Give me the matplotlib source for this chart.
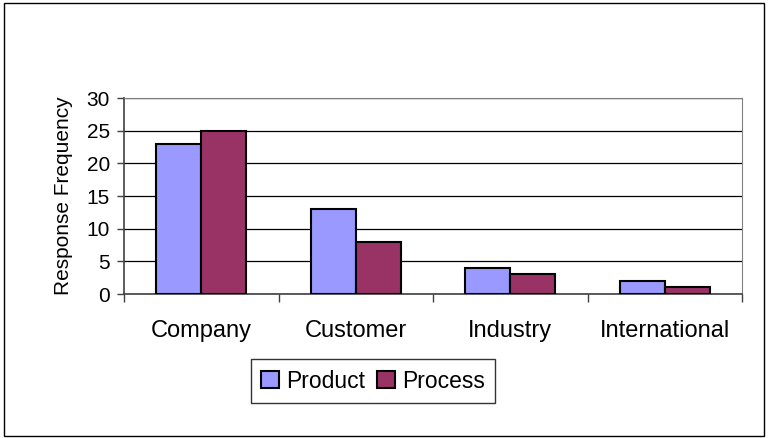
import numpy as np
import matplotlib.pyplot as plt
from matplotlib.patches import Rectangle

plt.rcParams['font.family'] = ['Liberation Sans', 'DejaVu Sans']

categories = ['Company', 'Customer', 'Industry', 'International']
product = [23, 13, 4, 2]
process = [25, 8, 3, 1]
y_ticks = [0, 5, 10, 15, 20, 25, 30]

W, H = 768, 438
fig = plt.figure(figsize=(W / 100, H / 100), dpi=100)

# outer chart border
fig.patches.append(Rectangle((4 / W, 2 / H), 760 / W, 433 / H, transform=fig.transFigure,
                             fill=False, edgecolor='black', linewidth=1.0))

ax = fig.add_axes([124 / W, 1 - 294 / H, 618 / W, 196 / H])

x = np.arange(len(categories))
bw = 0.29
ax.bar(x - bw / 2, product, bw, color='#9999FF', edgecolor='black', linewidth=1.5,
       label='Product', zorder=3)
ax.bar(x + bw / 2, process, bw, color='#993366', edgecolor='black', linewidth=1.5,
       label='Process', zorder=3)

ax.set_xlim(-0.5, len(categories) - 0.5)
ax.set_ylim(0, 30)
ax.set_yticks(y_ticks)
ax.tick_params(axis='y', labelsize=15, length=5, width=1, color='#404040', pad=5)
ax.yaxis.grid(True, color='black', linewidth=0.9, zorder=0)

# category boundaries as tick marks, labels in the middle
ax.set_xticks(np.arange(len(categories) + 1) - 0.5)
ax.set_xticklabels([])
ax.set_xticks(x, minor=True)
ax.set_xticklabels(categories, minor=True, fontsize=17)
ax.tick_params(axis='x', which='major', length=6, width=1, color='#404040', direction='out')
ax.tick_params(axis='x', which='minor', length=0, pad=19)

for s in ['top', 'right']:
    ax.spines[s].set_color('#808080')
for s in ['left', 'bottom']:
    ax.spines[s].set_color('#404040')
    ax.spines[s].set_linewidth(1.2)

ax.set_ylabel('Response Frequency', fontsize=15, labelpad=10)

leg = fig.legend(loc='center', bbox_to_anchor=(373 / W, 1 - 381 / H), ncol=2,
                 fontsize=16.5, frameon=True, fancybox=False, edgecolor='black',
                 handlelength=0.8, handleheight=0.8, handletextpad=0.3,
                 columnspacing=0.5, borderpad=0.45)
leg.get_frame().set_linewidth(1.0)

fig.savefig('out.png', dpi=100)
